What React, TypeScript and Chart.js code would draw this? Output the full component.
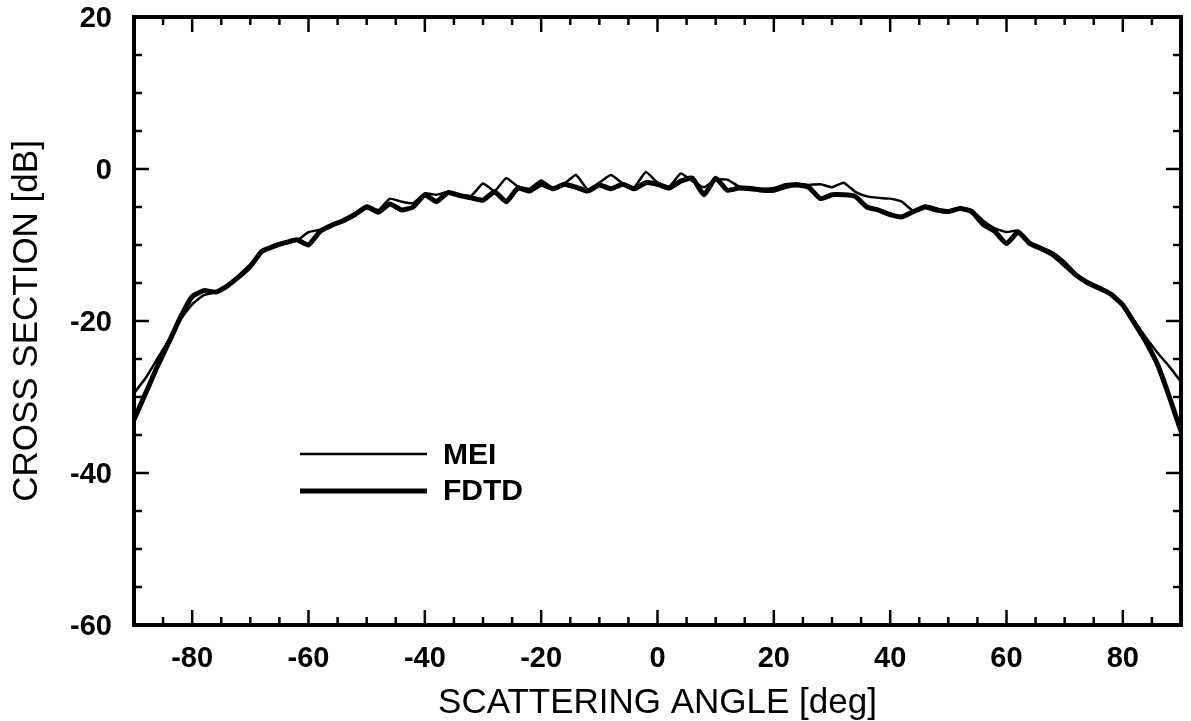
import React, { useEffect, useRef } from 'react';
import { Chart, registerables } from 'chart.js';

Chart.register(...registerables);

const angles = [
  -90, -88, -86, -84, -82, -80, -78, -76, -74, -72, -70, -68, -66, -64, -62, -60,
  -58, -56, -54, -52, -50, -48, -46, -44, -42, -40, -38, -36, -34, -32, -30, -28,
  -26, -24, -22, -20, -18, -16, -14, -12, -10, -8, -6, -4, -2, 0, 2, 4, 6, 8, 10,
  12, 14, 16, 18, 20, 22, 24, 26, 28, 30, 32, 34, 36, 38, 40, 42, 44, 46, 48, 50,
  52, 54, 56, 58, 60, 62, 64, 66, 68, 70, 72, 74, 76, 78, 80, 82, 84, 86, 88, 90,
];

const meiValues = [
  -29.5, -27.5, -25.0, -22.5, -19.8, -17.8, -16.6, -16.2, -15.3, -14.0, -12.6, -11.0, -10.0, -9.6, -9.4, -8.3,
  -8.0, -7.4, -6.6, -5.8, -4.8, -5.4, -3.9, -4.3, -4.5, -3.2, -3.4, -3.0, -3.4, -3.5, -1.9, -2.9,
  -1.2, -2.3, -2.6, -1.5, -2.5, -1.9, -0.8, -2.7, -1.8, -0.8, -1.9, -2.4, -0.4, -1.8, -2.3, -0.6, -1.6, -2.4, -1.4,
  -1.4, -2.3, -2.4, -2.6, -2.5, -2.0, -1.9, -2.1, -2.0, -2.4, -1.8, -3.0, -3.6, -3.8, -3.9, -4.3, -5.5, -4.8, -5.2, -5.6,
  -5.1, -5.4, -6.8, -7.8, -8.3, -8.1, -9.6, -10.3, -11.0, -12.2, -13.8, -14.8, -15.6, -16.4, -17.8, -20.0, -22.2, -24.2, -26.0, -28.0,
];

const fdtdValues = [
  -33.0, -29.5, -26.0, -22.8, -19.5, -16.8, -16.0, -16.2, -15.4, -14.2, -12.8, -10.8, -10.2, -9.7, -9.3, -10.0,
  -8.2, -7.4, -6.8, -6.0, -5.0, -5.7, -4.6, -5.4, -5.0, -3.4, -4.3, -3.1, -3.5, -3.8, -4.1, -3.0,
  -4.3, -2.5, -2.9, -2.0, -2.6, -2.0, -2.4, -2.9, -2.1, -2.6, -2.0, -2.6, -1.8, -2.0, -2.5, -1.6, -1.2, -3.4, -1.2,
  -2.8, -2.5, -2.6, -2.8, -2.8, -2.3, -2.1, -2.4, -3.9, -3.4, -3.4, -3.6, -5.0, -5.4, -6.0, -6.3, -5.6, -5.0, -5.4, -5.6,
  -5.2, -5.6, -7.3, -8.2, -9.8, -8.3, -9.8, -10.5, -11.3, -12.6, -14.0, -15.0, -15.7, -16.5, -17.9, -20.3, -22.8, -25.8, -30.0, -34.5,
];

const seriesNames = ['MEI', 'FDTD'];

const xTickValues = [
  -90, -85, -80, -75, -70, -65, -60, -55, -50, -45, -40, -35, -30, -25, -20, -15, -10, -5,
  0, 5, 10, 15, 20, 25, 30, 35, 40, 45, 50, 55, 60, 65, 70, 75, 80, 85, 90,
];
const xLabelValues = [-80, -60, -40, -20, 0, 20, 40, 60, 80];

const yTickValues = [20, 15, 10, 5, 0, -5, -10, -15, -20, -25, -30, -35, -40, -45, -50, -55, -60];
const yLabelValues = [20, 0, -20, -40, -60];

const FONT = '"Liberation Sans", Arial, Helvetica, sans-serif';

const framePlugin = {
  id: 'frameTicksLegend',
  afterDatasetsDraw(chart: any) {
    const { ctx, chartArea, scales } = chart;
    const { left, right, top, bottom } = chartArea;
    const xs = scales.x;
    const ys = scales.y;
    ctx.save();
    ctx.strokeStyle = '#000';
    ctx.lineWidth = 2.5;
    ctx.lineCap = 'butt';
    xTickValues.forEach((v) => {
      const px = xs.getPixelForValue(v);
      const len = v % 20 === 0 ? 15 : 8;
      ctx.beginPath();
      ctx.moveTo(px, bottom);
      ctx.lineTo(px, bottom - len);
      ctx.moveTo(px, top);
      ctx.lineTo(px, top + len);
      ctx.stroke();
    });
    yTickValues.forEach((v) => {
      const py = ys.getPixelForValue(v);
      const len = v % 20 === 0 ? 15 : 8;
      ctx.beginPath();
      ctx.moveTo(left, py);
      ctx.lineTo(left + len, py);
      ctx.moveTo(right, py);
      ctx.lineTo(right - len, py);
      ctx.stroke();
    });
    ctx.lineWidth = 4;
    ctx.strokeRect(left, top, right - left, bottom - top);

    // tick labels
    ctx.fillStyle = '#000';
    ctx.font = `bold 29px ${FONT}`;
    ctx.textBaseline = 'middle';
    ctx.textAlign = 'center';
    xLabelValues.forEach((v) => {
      ctx.fillText(String(v), xs.getPixelForValue(v), bottom + 34);
    });
    ctx.textAlign = 'right';
    yLabelValues.forEach((v) => {
      ctx.fillText(String(v), left - 22, ys.getPixelForValue(v) + 2);
    });

    // legend
    const lx0 = left + 166;
    const lx1 = left + 293;
    const ly0 = top + 437;
    const ly1 = top + 474;
    ctx.lineWidth = 2.5;
    ctx.beginPath();
    ctx.moveTo(lx0, ly0);
    ctx.lineTo(lx1, ly0);
    ctx.stroke();
    ctx.lineWidth = 5;
    ctx.beginPath();
    ctx.moveTo(lx0, ly1);
    ctx.lineTo(lx1, ly1);
    ctx.stroke();
    ctx.font = `bold 30px ${FONT}`;
    ctx.textAlign = 'left';
    ctx.textBaseline = 'middle';
    ctx.fillText(seriesNames[0], lx1 + 16, ly0 + 2);
    ctx.fillText(seriesNames[1], lx1 + 16, ly1 + 1);
    ctx.restore();
  },
};

export default function App() {
  const canvasRef = useRef<HTMLCanvasElement | null>(null);

  useEffect(() => {
    const canvas = canvasRef.current;
    if (!canvas) return;
    const chart = new Chart(canvas, {
      type: 'line',
      data: {
        datasets: [
          {
            label: seriesNames[0],
            data: angles.map((a, i) => ({ x: a, y: meiValues[i] })),
            borderColor: '#000',
            borderWidth: 2.5,
            pointRadius: 0,
            tension: 0.15,
            fill: false,
          },
          {
            label: seriesNames[1],
            data: angles.map((a, i) => ({ x: a, y: fdtdValues[i] })),
            borderColor: '#000',
            borderWidth: 5,
            pointRadius: 0,
            tension: 0.15,
            fill: false,
          },
        ],
      },
      options: {
        animation: false,
        responsive: false,
        devicePixelRatio: 1,
        layout: { padding: { top: 17, right: 10, left: 0, bottom: 0 } },
        plugins: {
          legend: { display: false },
          tooltip: { enabled: false },
        },
        scales: {
          x: {
            type: 'linear',
            min: -90,
            max: 90,
            afterBuildTicks: (scale: any) => {
              scale.ticks = xTickValues.map((v) => ({ value: v }));
            },
            afterFit: (scale: any) => {
              scale.height = 96;
            },
            grid: { display: false, drawTicks: false },
            border: { display: false },
            ticks: { display: false },
            title: {
              display: true,
              text: 'SCATTERING ANGLE [deg]',
              color: '#000',
              font: { family: FONT, size: 35, weight: 'normal', lineHeight: 1 },
              padding: { top: 0, bottom: 0 },
            },
          },
          y: {
            type: 'linear',
            min: -60,
            max: 20,
            afterBuildTicks: (scale: any) => {
              scale.ticks = yTickValues.map((v) => ({ value: v }));
            },
            afterFit: (scale: any) => {
              scale.width = 134;
            },
            grid: { display: false, drawTicks: false },
            border: { display: false },
            ticks: { display: false },
            title: {
              display: true,
              text: 'CROSS SECTION [dB]',
              color: '#000',
              font: { family: FONT, size: 35, weight: 'normal', lineHeight: 1 },
              padding: { top: 10, bottom: 0 },
            },
          },
        },
      },
      plugins: [framePlugin],
    } as any);
    return () => {
      chart.destroy();
    };
  }, []);

  return (
    <div style={{ position: 'absolute', left: 0, top: 0, width: 1191, height: 721, background: '#fff' }}>
      <canvas ref={canvasRef} width={1191} height={721} style={{ display: 'block' }} />
    </div>
  );
}
